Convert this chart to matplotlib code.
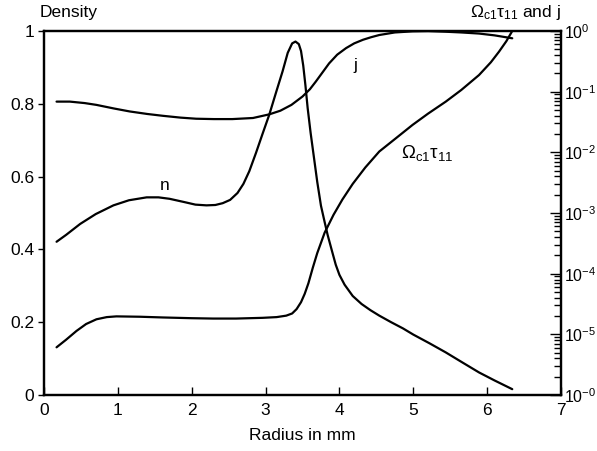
import numpy as np
from matplotlib import pyplot as plt
from matplotlib.ticker import FixedLocator, FixedFormatter, LogLocator, NullFormatter

plt.rcParams['font.family'] = ['Liberation Sans', 'DejaVu Sans']
plt.rcParams['mathtext.fontset'] = 'custom'
plt.rcParams['mathtext.rm'] = 'Liberation Sans'
plt.rcParams['mathtext.it'] = 'Liberation Sans'

# density n (left axis)
n_radius = [0.17, 0.30, 0.49, 0.70, 0.94, 1.15, 1.39, 1.55, 1.70, 1.90, 2.05, 2.20, 2.32, 2.42,
            2.52, 2.62, 2.70, 2.78, 2.87, 2.96, 3.05, 3.14, 3.23, 3.30, 3.36, 3.405, 3.45, 3.48,
            3.51, 3.54, 3.57, 3.61, 3.66, 3.70, 3.75, 3.80, 3.84, 3.90, 3.95, 4.00, 4.07, 4.18,
            4.30, 4.42, 4.54, 4.70, 4.86, 5.00, 5.22, 5.44, 5.66, 5.89, 6.10, 6.34]
n_density = [0.421, 0.440, 0.470, 0.497, 0.521, 0.535, 0.543, 0.543, 0.539, 0.530, 0.523, 0.521,
             0.522, 0.527, 0.536, 0.555, 0.580, 0.615, 0.665, 0.718, 0.770, 0.830, 0.889, 0.940,
             0.966, 0.971, 0.964, 0.945, 0.905, 0.850, 0.788, 0.720, 0.645, 0.585, 0.520, 0.475,
             0.440, 0.395, 0.358, 0.330, 0.303, 0.272, 0.250, 0.233, 0.218, 0.200, 0.183, 0.166,
             0.142, 0.117, 0.090, 0.062, 0.040, 0.016]

# j (right log axis), exponents of 10
j_radius = [0.17, 0.35, 0.55, 0.71, 0.95, 1.16, 1.40, 1.61, 1.85, 2.06, 2.30, 2.55, 2.83, 3.05,
            3.20, 3.35, 3.50, 3.60, 3.68, 3.77, 3.86, 3.97, 4.09, 4.20, 4.32, 4.43, 4.54, 4.75,
            4.99, 5.20, 5.44, 5.65, 5.89, 6.10, 6.34]
j_exp = [-1.164, -1.164, -1.188, -1.218, -1.278, -1.326, -1.368, -1.398, -1.428, -1.446, -1.452,
         -1.452, -1.434, -1.374, -1.314, -1.218, -1.08, -0.96, -0.834, -0.684, -0.534, -0.39,
         -0.282, -0.204, -0.144, -0.102, -0.066, -0.024, -0.006, -0.002, -0.012, -0.024, -0.042,
         -0.072, -0.12]

# Omega_c1 tau_11 (right log axis), exponents of 10
w_radius = [0.17, 0.30, 0.44, 0.57, 0.71, 0.85, 0.98, 1.30, 1.61, 2.00, 2.29, 2.60, 2.96, 3.15,
            3.28, 3.36, 3.42, 3.48, 3.53, 3.58, 3.64, 3.70, 3.80, 3.92, 4.04, 4.18, 4.35, 4.54,
            4.75, 4.99, 5.20, 5.44, 5.65, 5.89, 6.05, 6.16, 6.26, 6.34]
w_exp = [-5.214, -5.088, -4.944, -4.83, -4.752, -4.716, -4.704, -4.71, -4.722, -4.734, -4.74,
         -4.74, -4.728, -4.716, -4.692, -4.656, -4.584, -4.47, -4.332, -4.158, -3.90, -3.66,
         -3.324, -3.03, -2.778, -2.52, -2.25, -1.986, -1.782, -1.548, -1.362, -1.164, -0.972,
         -0.726, -0.516, -0.342, -0.168, 0.0]

right_ticks = [1e-6, 1e-5, 1e-4, 1e-3, 1e-2, 1e-1, 1e0]
right_labels = [r'$\mathregular{10^{-0}}$', r'$\mathregular{10^{-5}}$', r'$\mathregular{10^{-4}}$',
                r'$\mathregular{10^{-3}}$', r'$\mathregular{10^{-2}}$', r'$\mathregular{10^{-1}}$',
                r'$\mathregular{10^{0}}$']

fig = plt.figure(figsize=(5.97, 4.51), dpi=100)
ax = fig.add_axes([44 / 597, 1 - 395 / 451, 517 / 597, 364 / 451])

line_kw = dict(color='black', lw=1.6, solid_joinstyle='round', solid_capstyle='round')
ax.plot(n_radius, n_density, **line_kw)
ax.set_xlim(0, 7)
ax.set_ylim(0, 1)
ax.set_xticks(range(8))
ax.set_yticks([0, 0.2, 0.4, 0.6, 0.8, 1])
ax.set_yticklabels(['0', '0.2', '0.4', '0.6', '0.8', '1'])
ax.tick_params(axis='x', direction='in', length=6, width=1, labelsize=12.5, pad=6)
ax.tick_params(axis='y', direction='out', length=4, width=1, labelsize=12.5, pad=3)
ax.set_xlabel('Radius in mm', fontsize=12.5, labelpad=7)
for s in ax.spines.values():
    s.set_linewidth(1.6)

ax2 = ax.twinx()
ax2.plot(j_radius, 10 ** np.array(j_exp), **line_kw)
ax2.plot(w_radius, 10 ** np.array(w_exp), **line_kw)
ax2.set_yscale('log')
ax2.set_ylim(1e-6, 1)
ax2.yaxis.set_major_locator(FixedLocator(right_ticks))
ax2.yaxis.set_major_formatter(FixedFormatter(right_labels))
ax2.yaxis.set_minor_locator(LogLocator(base=10, subs=np.arange(2, 10), numticks=20))
ax2.yaxis.set_minor_formatter(NullFormatter())
ax2.tick_params(axis='y', which='major', direction='in', length=8, width=1, labelsize=11.5, pad=2)
ax2.tick_params(axis='y', which='minor', direction='in', length=5, width=1)
for s in ax2.spines.values():
    s.set_linewidth(1.6)

ax.text(1.635, 0.575, 'n', fontsize=12.5, ha='center', va='center')
ax.text(4.22, 0.905, 'j', fontsize=12.5, ha='center', va='center')
ax.text(4.84, 0.665, r'$\mathregular{\Omega_{c1}\tau_{11}}$', fontsize=13.5, ha='left', va='center')

fig.text(40 / 597, 1 - 12 / 451, 'Density', fontsize=12.5, ha='left', va='center')
fig.text(561 / 597, 1 - 12 / 451, r'$\mathregular{\Omega_{c1}\tau_{11}}$ and j', fontsize=12.5,
         ha='right', va='center')

fig.savefig('out.png', dpi=100)
